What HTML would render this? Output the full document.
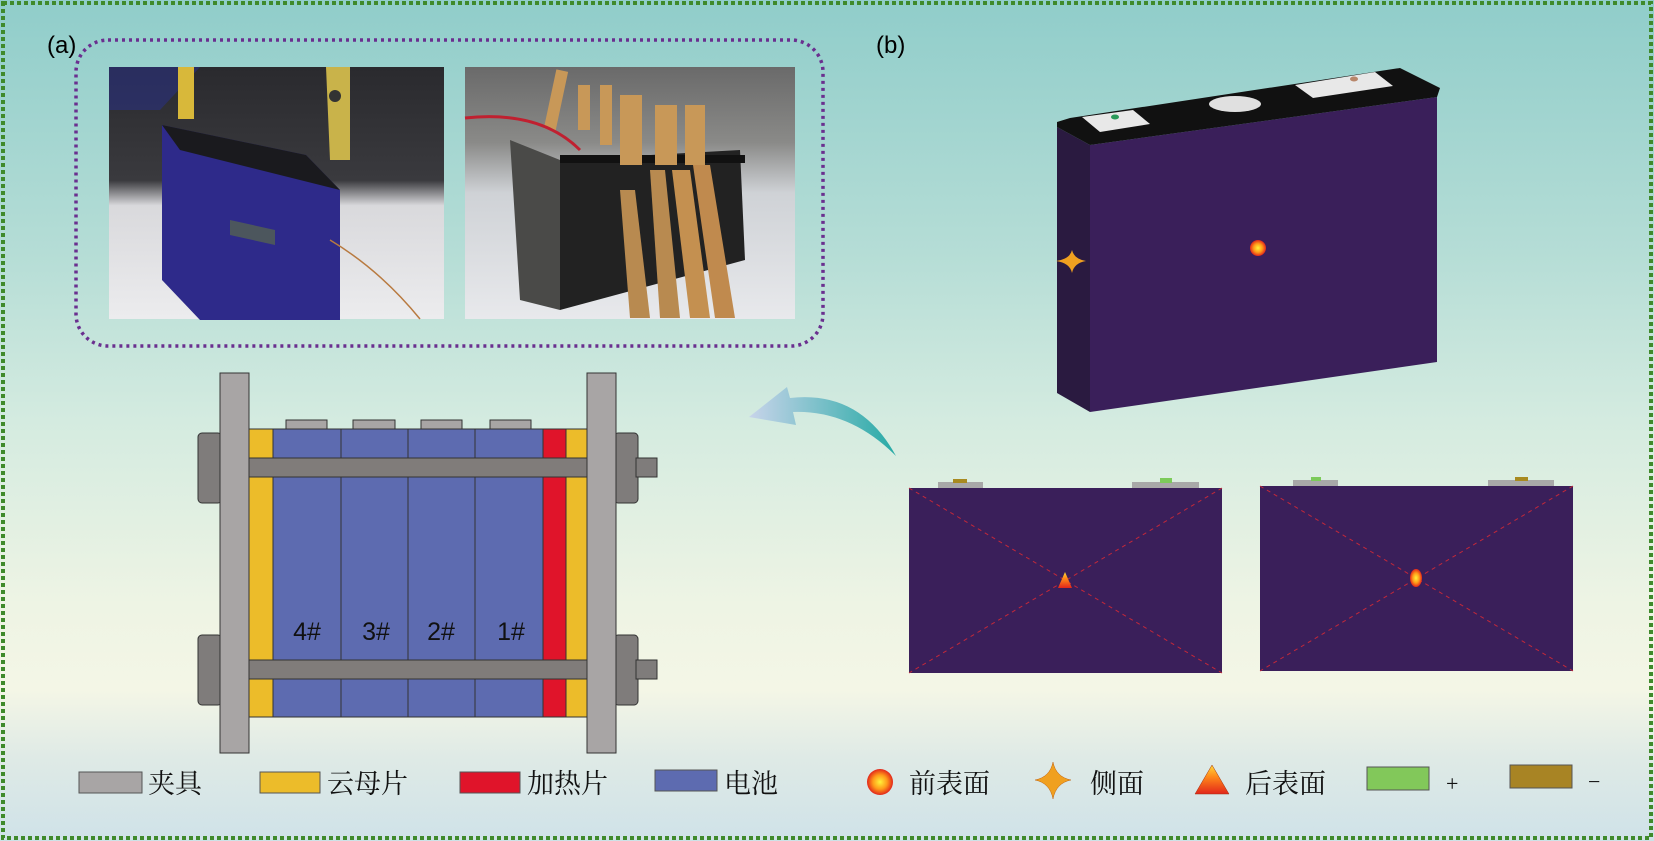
<!DOCTYPE html>
<html><head><meta charset="utf-8"><style>
html,body{margin:0;padding:0;width:1654px;height:841px;overflow:hidden}
body{background:linear-gradient(to bottom,#90cdca 0%,#b5ddd6 30%,#d4ebe0 50%,#eef4e4 72%,#f4f6e6 82%,#dfeae6 90%,#cfe2e8 100%)}
text{font-family:"Liberation Serif","Noto Serif CJK SC",serif}
</style></head><body>
<svg width="1654" height="841" viewBox="0 0 1654 841" xmlns="http://www.w3.org/2000/svg">
<defs>
<radialGradient id="dot" cx="50%" cy="50%" r="50%"><stop offset="0" stop-color="#fff23a"/><stop offset="0.55" stop-color="#ff9a1a"/><stop offset="1" stop-color="#e2261b"/></radialGradient>
<linearGradient id="tri" x1="0" y1="1" x2="0" y2="0"><stop offset="0" stop-color="#e2261b"/><stop offset="0.6" stop-color="#ff8a1a"/><stop offset="1" stop-color="#ffd83a"/></linearGradient>
<linearGradient id="arr" x1="0" y1="0" x2="1" y2="0"><stop offset="0" stop-color="#c8d4ea"/><stop offset="1" stop-color="#26aaa5"/></linearGradient>
<linearGradient id="p1" x1="0" y1="0" x2="0" y2="1"><stop offset="0" stop-color="#2a2a2e"/><stop offset="0.45" stop-color="#3a3a3e"/><stop offset="0.55" stop-color="#d9d9dc"/><stop offset="1" stop-color="#ececee"/></linearGradient>
<linearGradient id="p2" x1="0" y1="0" x2="0" y2="1"><stop offset="0" stop-color="#6a6a6a"/><stop offset="0.3" stop-color="#8a8a88"/><stop offset="0.5" stop-color="#cfd2d6"/><stop offset="1" stop-color="#e8e9ec"/></linearGradient>
</defs>
<rect x="3" y="3" width="1648" height="835" fill="none" stroke="#3f8a2b" stroke-width="4" stroke-dasharray="4,3"/>
<text x="47" y="53" font-size="24" font-family="Liberation Sans, sans-serif" style="font-family:'Liberation Sans',sans-serif">(a)</text>
<text x="876" y="53" font-size="24" style="font-family:'Liberation Sans',sans-serif">(b)</text>
<rect x="76" y="40" width="747" height="306" rx="32" fill="none" stroke="#6a2f8f" stroke-width="3.5" stroke-dasharray="3,4"/>
<!-- photo 1 -->
<rect x="109" y="67" width="335" height="252" fill="url(#p1)"/>
<path d="M109 67 L200 67 L160 110 L109 110Z" fill="#2a3080" opacity="0.6"/>
<polygon points="162,125 306,155 340,190 340,320 200,320 162,280" fill="#2e2a8a"/>
<polygon points="162,125 306,155 340,190 180,150" fill="#1a1a1e"/>
<rect x="178" y="67" width="16" height="52" fill="#d8b83a"/>
<polygon points="326,67 350,67 350,160 330,160" fill="#c9b34a"/>
<circle cx="335" cy="96" r="6" fill="#333"/>
<path d="M230 220 L275 230 L275 245 L230 235Z" fill="#5a6a4a" opacity="0.7"/>
<path d="M330 240 Q380 270 420 319" stroke="#b87a40" stroke-width="1.5" fill="none"/>
<!-- photo 2 -->
<rect x="465" y="67" width="330" height="252" fill="url(#p2)"/>
<polygon points="510,140 560,160 560,310 520,300" fill="#4a4a48"/>
<polygon points="560,160 740,150 745,260 560,310" fill="#222"/>
<rect x="560" y="155" width="185" height="8" fill="#111"/>
<rect x="550" y="70" width="12" height="60" fill="#c89858" transform="rotate(12 556 100)"/>
<rect x="578" y="85" width="12" height="45" fill="#c89858"/>
<rect x="600" y="85" width="12" height="60" fill="#c89858"/>
<rect x="620" y="95" width="22" height="70" fill="#c89858"/>
<rect x="655" y="105" width="22" height="60" fill="#c89858"/>
<rect x="685" y="105" width="20" height="60" fill="#c89858"/>
<polygon points="650,170 665,170 680,318 660,318" fill="#b88a50"/>
<polygon points="672,170 690,170 710,318 690,318" fill="#c49050"/>
<polygon points="693,165 710,165 735,318 715,318" fill="#c08a4e"/>
<polygon points="620,190 635,190 650,318 630,318" fill="#b88a50"/>
<path d="M465 118 Q540 110 580 150" stroke="#c02030" stroke-width="3" fill="none"/>
<!-- (a) schematic -->
<g stroke="#333" stroke-width="1">
<rect x="198" y="433" width="24" height="70" rx="4" fill="#7f7c7b"/>
<rect x="198" y="635" width="24" height="70" rx="4" fill="#7f7c7b"/>
<rect x="614" y="433" width="24" height="70" rx="4" fill="#7f7c7b"/>
<rect x="614" y="635" width="24" height="70" rx="4" fill="#7f7c7b"/>
<rect x="636" y="458" width="21" height="19" fill="#7f7c7b"/>
<rect x="636" y="660" width="21" height="19" fill="#7f7c7b"/>
<rect x="286" y="420" width="41" height="9" fill="#a8a5a5"/>
<rect x="353" y="420" width="42" height="9" fill="#a8a5a5"/>
<rect x="421" y="420" width="41" height="9" fill="#a8a5a5"/>
<rect x="490" y="420" width="41" height="9" fill="#a8a5a5"/>
<rect x="249" y="429" width="24" height="288" fill="#ecbc2a"/>
<rect x="273" y="429" width="68" height="288" fill="#5d6bb0"/>
<rect x="341" y="429" width="67" height="288" fill="#5d6bb0"/>
<rect x="408" y="429" width="67" height="288" fill="#5d6bb0"/>
<rect x="475" y="429" width="68" height="288" fill="#5d6bb0"/>
<rect x="543" y="429" width="23" height="288" fill="#e0142a"/>
<rect x="566" y="429" width="21" height="288" fill="#ecbc2a"/>
<rect x="249" y="458" width="338" height="19" fill="#807c7a"/>
<rect x="249" y="660" width="339" height="19" fill="#807c7a"/>
<rect x="220" y="373" width="29" height="380" fill="#a8a5a5"/>
<rect x="587" y="373" width="29" height="380" fill="#a8a5a5"/>
</g>
<g font-size="25" text-anchor="middle" style="font-family:'Liberation Sans',sans-serif" fill="#111">
<text x="307" y="640" style="font-family:'Liberation Sans',sans-serif">4#</text>
<text x="376" y="640" style="font-family:'Liberation Sans',sans-serif">3#</text>
<text x="441" y="640" style="font-family:'Liberation Sans',sans-serif">2#</text>
<text x="511" y="640" style="font-family:'Liberation Sans',sans-serif">1#</text>
</g>
<!-- arrow -->
<path d="M896 456 Q860 390 790 398 L787 387 L749 417 L796 425 L793 412 Q850 410 896 456Z" fill="url(#arr)"/>
<!-- 3D battery -->
<polygon points="1057,127 1090,145 1090,412 1057,393" fill="#2a1a40"/>
<polygon points="1090,145 1437,97 1437,362 1090,412" fill="#3a1f5a"/>
<polygon points="1057,122 1070,118 1400,68 1440,88 1437,97 1090,145 1057,127" fill="#111"/>
<polygon points="1082,117 1133,110 1150,124 1100,132" fill="#e8e8e8"/>
<ellipse cx="1115" cy="117" rx="4" ry="2.5" fill="#2a9a5a"/>
<polygon points="1295,85 1375,72 1393,86 1313,98" fill="#e8e8e8"/>
<ellipse cx="1354" cy="79" rx="4" ry="2.5" fill="#b8866a"/>
<ellipse cx="1235" cy="104" rx="26" ry="8" fill="#e0e0e0"/>
<circle cx="1258" cy="248" r="8" fill="url(#dot)"/>
<path d="M1072 250 Q1074 259 1086 261 Q1074 263 1072 273 Q1070 263 1056 261 Q1070 259 1072 250Z" fill="#f0a020"/>
<!-- front views -->
<rect x="938" y="482" width="45" height="6" fill="#a8a8a8"/><rect x="953" y="479" width="14" height="4" fill="#a88a20"/>
<rect x="1132" y="482" width="67" height="6" fill="#a8a8a8"/><rect x="1160" y="478" width="12" height="5" fill="#7ccb5a"/>
<rect x="909" y="488" width="313" height="185" fill="#3a1f5a"/>
<path d="M909 488 L1222 673 M1222 488 L909 673" stroke="#c2283a" stroke-width="1" stroke-dasharray="4,4"/>
<polygon points="1065,572 1072,588 1058,588" fill="url(#tri)"/>
<rect x="1293" y="480" width="45" height="6" fill="#a8a8a8"/><rect x="1311" y="477" width="10" height="4" fill="#7ccb5a"/>
<rect x="1488" y="480" width="66" height="6" fill="#a8a8a8"/><rect x="1515" y="477" width="13" height="4" fill="#a88a20"/>
<rect x="1260" y="486" width="313" height="185" fill="#3a1f5a"/>
<path d="M1260 486 L1573 671 M1573 486 L1260 671" stroke="#c2283a" stroke-width="1" stroke-dasharray="4,4"/>
<ellipse cx="1416" cy="578" rx="6" ry="9" fill="url(#dot)"/>
<!-- legend -->
<g stroke="#555" stroke-width="1">
<rect x="79" y="772" width="63" height="21" fill="#a8a5a5"/>
<rect x="260" y="772" width="60" height="21" fill="#ecbc2a"/>
<rect x="460" y="772" width="60" height="21" fill="#e0142a"/>
<rect x="655" y="770" width="62" height="21" fill="#5d6bb0"/>
<rect x="1367" y="767" width="62" height="23" fill="#82c85a"/>
<rect x="1510" y="765" width="62" height="23" fill="#a88424"/>
</g>
<g font-size="27" fill="#111">
<text x="148" y="793">夹具</text>
<text x="327" y="793">云母片</text>
<text x="527" y="793">加热片</text>
<text x="724" y="793">电池</text>
<text x="909" y="793">前表面</text>
<text x="1090" y="793">侧面</text>
<text x="1245" y="793">后表面</text>
<text x="1446" y="791" font-size="22">+</text>
<text x="1588" y="789" font-size="22">−</text>
</g>
<circle cx="880" cy="782" r="13" fill="url(#dot)"/>
<path d="M1053 762 Q1056 777 1071 780 Q1056 783 1053 799 Q1050 783 1035 780 Q1050 777 1053 762Z" fill="#f0a020" stroke="#c06010" stroke-width="0.5"/>
<polygon points="1212,765 1229,794 1195,794" fill="url(#tri)" stroke="#a03010" stroke-width="0.5"/>
</svg>
</body></html>
